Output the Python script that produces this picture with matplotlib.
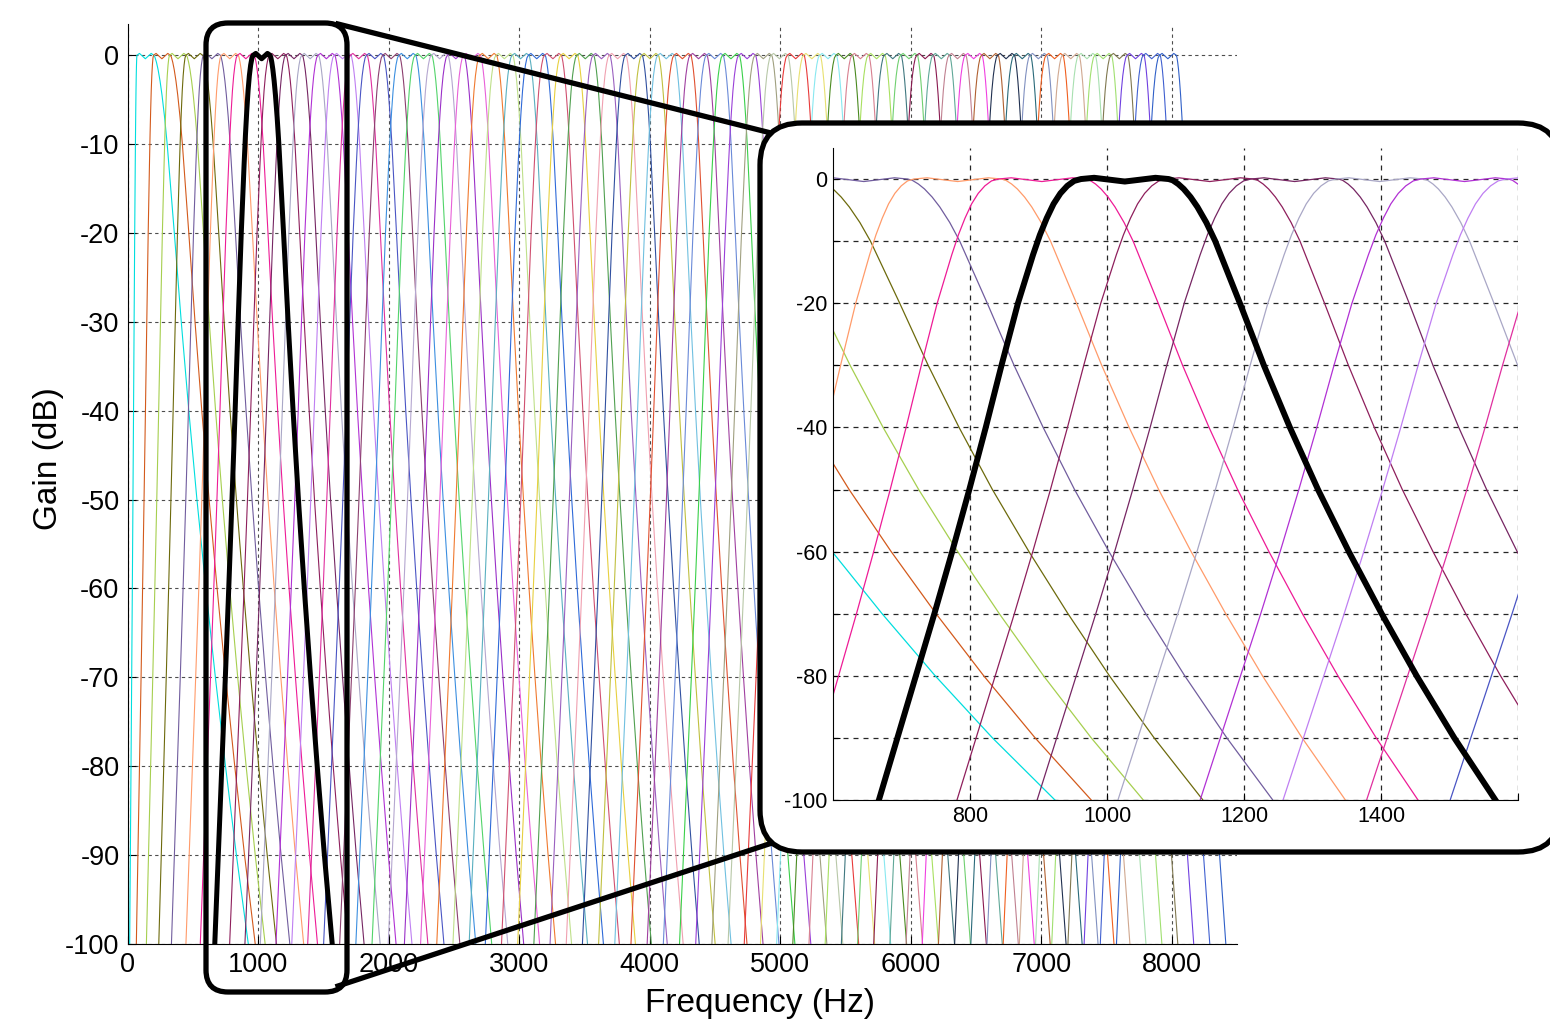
import numpy as np
import matplotlib
matplotlib.use("Agg")
from matplotlib import pyplot as plt
from matplotlib.patches import FancyBboxPatch
from matplotlib.lines import Line2D
from matplotlib.transforms import IdentityTransform

plt.rcParams['font.family'] = ['Liberation Sans', 'DejaVu Sans']
plt.rcParams['axes.unicode_minus'] = False

# centre frequency of every band (Hz)
centres = [135, 262, 385, 510, 645, 782, 905, 1026,
           1150, 1274, 1398, 1522, 1646, 1770, 1894, 2018,
           2142, 2266, 2390, 2514, 2638, 2762, 2886, 3010,
           3134, 3258, 3382, 3506, 3630, 3754, 3878, 4002,
           4126, 4250, 4374, 4498, 4622, 4746, 4870, 4994,
           5118, 5242, 5366, 5490, 5614, 5738, 5862, 5986,
           6110, 6234, 6358, 6482, 6606, 6730, 6854, 6978,
           7102, 7226, 7350, 7474, 7598, 7722, 7846, 7970]
# width of the skirt (flat top edge -> -100 dB), Hz
left_skirt = [56, 132, 178, 208, 246, 272, 285, 295,
              305, 312, 318, 322, 325, 327, 329, 330,
              330, 330, 330, 330, 330, 330, 330, 330,
              330, 330, 330, 330, 330, 330, 330, 330,
              330, 330, 330, 330, 330, 330, 330, 330,
              330, 330, 330, 330, 330, 330, 330, 330,
              330, 330, 330, 330, 330, 330, 330, 330,
              330, 330, 330, 330, 330, 330, 330, 330]
right_skirt = [725, 651, 604, 566, 533, 502, 485, 477,
               475, 473, 472, 470, 468, 466, 465, 463,
               461, 459, 458, 456, 454, 452, 451, 449,
               447, 445, 444, 442, 440, 438, 437, 435,
               433, 431, 430, 428, 426, 424, 423, 421,
               419, 417, 416, 414, 412, 410, 409, 407,
               405, 403, 402, 400, 398, 396, 395, 393,
               391, 389, 388, 386, 384, 382, 381, 380]
colours = ['#00dede', '#d35a1c', '#a6cf4f', '#6d6a0c', '#715d9e', '#ff9b6a', '#ee1b96', '#000000',
           '#8e1f5c', '#762663', '#a9a7c6', '#b131d4', '#bf7ff2', '#e0309f', '#4a55c4', '#8c3f6f',
           '#3c8fe0', '#52d46a', '#b5a7d0', '#9b30c8', '#e860d8', '#f07a30', '#bfe08a', '#5ab0c0',
           '#2f6ad8', '#d05070', '#e7d040', '#50a050', '#9a60c0', '#f0a0b0', '#3050a0', '#c0c040',
           '#70c0e0', '#e05030', '#a040a0', '#6a8ad8', '#3ad04a', '#9a40d8', '#a0a080', '#b8c8a8',
           '#e83a3a', '#e8e070', '#88e8f0', '#4a8a20', '#d88090', '#a8e060', '#407880', '#70d070',
           '#8a1a50', '#60a898', '#c08090', '#f040e0', '#b06030', '#203050', '#2a6a7a', '#8090c0',
           '#f06020', '#d0a890', '#a8e0b0', '#a0e070', '#807850', '#7040e0', '#4060d0', '#3060c8']
highlight = 7
top_half = 64

# band shape (offsets in Hz from the flat-top edges)
top_pos = [-1.0, -0.7, -0.35, 0.0, 0.35, 0.7, 1.0]
top_db = [0.0, 0.2, -0.1, -0.4, -0.1, 0.2, 0.0]
left_off = [0, 10, 20, 30, 40, 50, 60, 70, 92, 116, 139, 163, 188, 214, 241, 268, 295, 313]
left_db = [0, -0.3, -1.1, -2.3, -4.0, -6.3, -9.0, -12.2, -20, -30, -40, -50, -60, -70, -80, -90, -100, -106]
right_off = [0, 6, 14, 22, 32, 42, 55, 68, 86, 104, 139, 177, 218, 263, 311, 362, 417, 477, 513]
right_db = [0, -0.2, -0.8, -1.6, -2.9, -4.5, -7, -10, -15, -20, -30, -40, -50, -60, -70, -80, -90, -100, -106]


def band(k):
    c = centres[k]
    lo = np.array(left_off) / left_off[left_db.index(-100)] * left_skirt[k]
    ro = np.array(right_off) / right_off[right_db.index(-100)] * right_skirt[k]
    f = np.concatenate([(c - top_half - lo)[::-1], c + top_half * np.array(top_pos[1:-1]),
                        c + top_half + ro])
    g = np.concatenate([np.array(left_db)[::-1], top_db[1:-1], right_db])
    return f, g


fig = plt.figure(figsize=(15.5, 10.21), dpi=100)

# main filterbank plot
ax = fig.add_axes([0.0824, 0.0754, 0.7157, 0.901])
ax.set_zorder(0)
for k in range(len(centres)):
    if k == highlight:
        continue
    f, g = band(k)
    ax.plot(f, g, color=colours[k], lw=0.8)
f, g = band(highlight)
ax.plot(f, g, color='k', lw=3.6, solid_capstyle='butt', solid_joinstyle='round')
ax.set_xlim(0, 8500)
ax.set_ylim(-100, 3.5)
ax.set_xticks(range(0, 8001, 1000))
ax.set_yticks(range(-100, 1, 10))
ax.spines['top'].set_visible(False)
ax.spines['right'].set_visible(False)
ax.tick_params(direction='in', length=6, labelsize=19.5, pad=6)
ax.grid(True, color='0.3', ls=(0, (3, 3)), lw=0.8)
fig.text(760 / 1550, 1 - 1003 / 1021, 'Frequency (Hz)', ha='center', va='center', fontsize=24)
fig.text(48 / 1550, 1 - 459 / 1021, 'Gain (dB)', ha='center', va='center',
         rotation=90, fontsize=24)

# zoom frame, connectors and inset box (pixel coordinates)
px = IdentityTransform()
H = 1021
frame = FancyBboxPatch((206, H - 992), 141, 969, boxstyle='round,pad=0,rounding_size=22',
                       fc='none', ec='k', lw=3.8, transform=px, zorder=1)
fig.add_artist(frame)
fig.add_artist(Line2D([338, 775], [H - 24, H - 134], color='k', lw=3.8,
                      transform=px, zorder=1))
fig.add_artist(Line2D([338, 772], [H - 986, H - 843], color='k', lw=3.8,
                      transform=px, zorder=1))
box = FancyBboxPatch((760, H - 852), 800, 729, boxstyle='round,pad=0,rounding_size=42',
                     fc='white', ec='k', lw=3.8, transform=px, zorder=2)
fig.add_artist(box)

# zoomed inset
ax2 = fig.add_axes([833 / 1550, (1021 - 800) / 1021, 685 / 1550, 652 / 1021])
ax2.set_zorder(3)
ax2.patch.set_alpha(0)
for k in range(len(centres)):
    if k == highlight:
        continue
    f, g = band(k)
    ax2.plot(f, g, color=colours[k], lw=0.9)
f, g = band(highlight)
ax2.plot(f, g, color='k', lw=4.3, solid_joinstyle='round')
ax2.set_xlim(600, 1600)
ax2.set_ylim(-100, 5)
ax2.set_xticks([800, 1000, 1200, 1400, 1600])
ax2.set_xticklabels(['800', '1000', '1200', '1400', ''])
ax2.set_yticks(range(-100, 1, 10))
ax2.set_yticklabels([str(v) if v % 20 == 0 else '' for v in range(-100, 1, 10)])
ax2.spines['top'].set_visible(False)
ax2.spines['right'].set_visible(False)
ax2.tick_params(direction='in', length=5, labelsize=15.5, pad=4)
ax2.grid(True, color='0.15', ls=(0, (4, 4)), lw=0.9)

fig.savefig('out.png', dpi=100)
